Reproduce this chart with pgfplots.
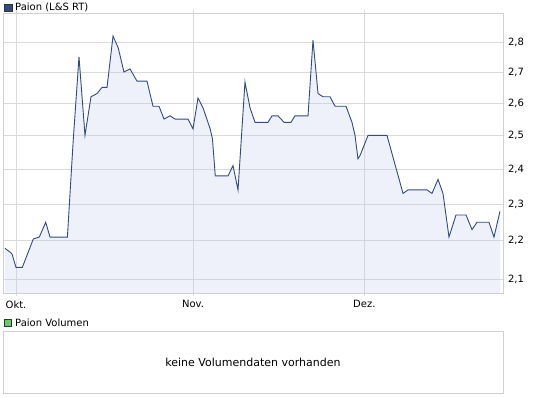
\documentclass[border=0pt]{standalone}
\usepackage{pgfplots}
\pgfplotsset{compat=1.18}
\usepackage{fontspec}
\setmainfont{DejaVu Sans}
\definecolor{lineblue}{HTML}{34497D}
\definecolor{fillblue}{HTML}{C6D0EE}
\definecolor{gridgray}{HTML}{DADADA}
\definecolor{boxgray}{HTML}{D0D0D0}
\definecolor{volgreen}{HTML}{66CC66}
\pgfplotstableread{
d v
-1.93 2.18
-1.05 2.17
-0.7 2.165
0.0 2.13
1.1 2.13
3.03 2.205
4.08 2.21
5.2 2.25
5.95 2.21
9.0 2.21
10.0 2.48
11.03 2.75
12.08 2.50
13.13 2.62
14.19 2.63
15.06 2.65
15.94 2.65
16.99 2.82
17.9 2.78
18.9 2.70
19.96 2.71
21.19 2.67
22.94 2.67
23.99 2.59
25.04 2.59
25.92 2.55
26.97 2.56
27.85 2.55
30.12 2.55
31.0 2.52
31.87 2.616
32.75 2.585
34.0 2.52
34.4 2.49
34.9 2.38
37.13 2.38
38.0 2.41
38.88 2.34
40.1 2.667
40.98 2.585
41.86 2.54
44.13 2.54
44.83 2.56
45.88 2.56
46.94 2.54
48.16 2.54
48.86 2.56
51.14 2.56
52.01 2.806
52.54 2.70
52.89 2.63
53.77 2.62
54.99 2.62
55.87 2.59
57.79 2.59
58.84 2.54
59.37 2.50
59.89 2.43
60.26 2.44
61.65 2.50
64.97 2.50
67.78 2.33
68.65 2.34
71.98 2.34
72.85 2.33
73.91 2.37
74.78 2.33
75.83 2.21
77.06 2.27
78.81 2.27
79.86 2.23
80.74 2.25
82.84 2.25
83.71 2.21
84.76 2.28
}\pricedata
\begin{document}
\begin{tikzpicture}[x=1pt,y=1pt,font=\fontsize{10}{12}\selectfont]
\path (0,0) rectangle (545,398);
\begin{axis}[
  at={(3pt,105pt)}, anchor=south west,
  scale only axis, width=500pt, height=280pt,
  ymode=log,
  xmin=-2.28, xmax=85.29, ymin=2.065, ymax=2.90,
  ytick={2.1,2.2,2.3,2.4,2.5,2.6,2.7,2.8},
  yticklabels={{2,1},{2,2},{2,3},{2,4},{2,5},{2,6},{2,7},{2,8}},
  yticklabel pos=right,
  yticklabel style={xshift=-1.5pt},
  xtick={0,31,61}, xticklabels={Okt.,Nov.,Dez.},
  xticklabel style={yshift=-1pt},
  grid=major,
  major grid style={gridgray, line width=0.8pt},
  axis line style={boxgray, line width=0.8pt},
  tick align=outside, major tick length=3pt,
  xtick style={gridgray, line width=0.8pt},
  ytick style={draw=none},
  minor tick num=0,
  ticklabel style={font=\fontsize{10}{12}\selectfont},
  /pgf/number format/assume math mode=true,
  clip=true,
]
\addplot[draw=none, fill=fillblue, fill opacity=0.3] table[x=d,y=v] {\pricedata} \closedcycle;
\addplot[lineblue, line width=0.9pt, mark=none] table[x=d,y=v] {\pricedata};
\end{axis}
\begin{axis}[
  at={(3pt,5pt)}, anchor=south west,
  scale only axis, width=500pt, height=62pt,
  xmin=0, xmax=1, ymin=0, ymax=1,
  xtick=\empty, ytick=\empty,
  axis line style={boxgray, line width=0.8pt},
]
\addplot[draw=none] coordinates {(0.5,0.5)};
\node at (rel axis cs:0.5,0.5) {\fontsize{11}{13}\selectfont keine Volumendaten vorhanden};
\end{axis}
\draw[fill=lineblue, draw=black!80, line width=0.6pt] (4.5,387) rectangle (12,394);
\node[anchor=west, inner sep=0pt] at (15,390.5) {Paion (L\&S RT)};
\draw[fill=volgreen, draw=black!80, line width=0.6pt] (4,71.5) rectangle (11.5,79);
\node[anchor=west, inner sep=0pt] at (15,75) {Paion Volumen};
\end{tikzpicture}
\end{document}
